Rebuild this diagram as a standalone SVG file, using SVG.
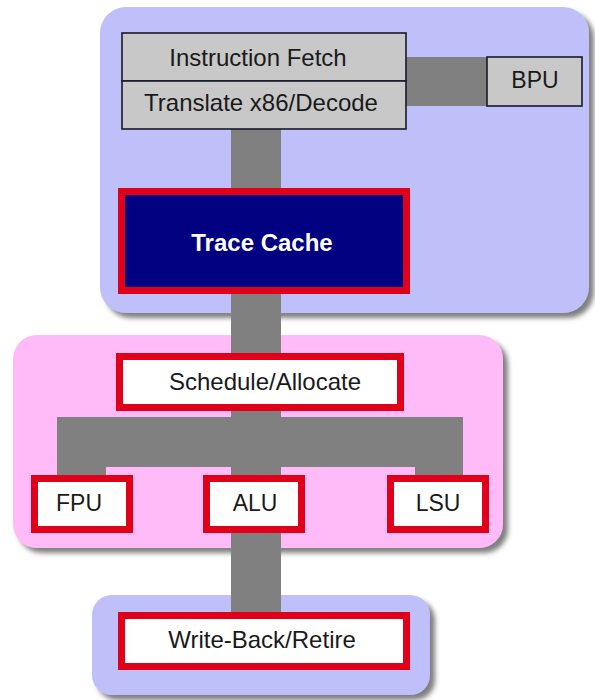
<svg xmlns="http://www.w3.org/2000/svg" width="595" height="700" viewBox="0 0 595 700">
<defs>
<filter id="sh" x="-10%" y="-10%" width="130%" height="130%">
<feDropShadow dx="5" dy="5" stdDeviation="2.5" flood-color="#555" flood-opacity="0.75"/>
</filter>
<style>
.panelB{fill:#BFBFF9;filter:url(#sh)}
.panelP{fill:#FFBBF7;filter:url(#sh)}
.conn{fill:#808080}
.gray{fill:#C8C8C8;stroke:#1a1a2a;stroke-width:1.6}
.red{fill:#FFFFFF;stroke:#E0001A;stroke-width:7}
.navy{fill:#000080;stroke:#E0001A;stroke-width:7}
text{font-family:"Liberation Sans",Arial,sans-serif;font-size:24px;fill:#1a1a1a;text-anchor:middle}
.sm{font-size:23px}
.wt{fill:#FFFFFF;font-weight:bold;font-size:24px}
</style>
</defs>
<rect width="595" height="700" fill="#FFFFFF"/>
<g id="panels">
<rect class="panelB" x="100" y="7" width="489" height="306" rx="26"/>
<rect class="panelP" x="13" y="335" width="490" height="213" rx="24"/>
<rect class="panelB" x="92" y="595" width="338" height="100" rx="20"/>
</g>
<g id="connectors">
<rect class="conn" x="406" y="57" width="81" height="49"/>
<rect class="conn" x="231" y="129" width="50" height="483"/>
<path class="conn" d="M57,417 H463 V475 H415 V467 H106 V475 H57 Z"/>
</g>
<g id="fetch-decode">
<rect class="gray" x="122" y="33" width="284" height="48"/>
<text x="258" y="66">Instruction Fetch</text>
<rect class="gray" x="122" y="81" width="284" height="48"/>
<text x="261" y="111">Translate x86/Decode</text>
</g>
<g id="bpu">
<rect class="gray" x="487" y="57" width="95" height="49"/>
<text class="sm" x="535" y="88">BPU</text>
</g>
<g id="trace-cache">
<rect class="navy" x="121.5" y="191.5" width="285" height="99"/>
<text class="wt" x="262" y="251">Trace Cache</text>
</g>
<g id="schedule">
<rect class="red" x="119.5" y="356.5" width="281" height="51"/>
<text x="265" y="390">Schedule/Allocate</text>
</g>
<g id="fpu">
<rect class="red" x="34.5" y="478.5" width="95" height="51"/>
<text class="sm" x="79" y="511">FPU</text>
</g>
<g id="alu">
<rect class="red" x="206.5" y="478.5" width="95" height="51"/>
<text class="sm" x="255" y="511">ALU</text>
</g>
<g id="lsu">
<rect class="red" x="390.5" y="478.5" width="95" height="51"/>
<text class="sm" x="438" y="511">LSU</text>
</g>
<g id="write-back">
<rect class="red" x="121.5" y="615.5" width="285" height="51"/>
<text x="262" y="648">Write-Back/Retire</text>
</g>
</svg>
